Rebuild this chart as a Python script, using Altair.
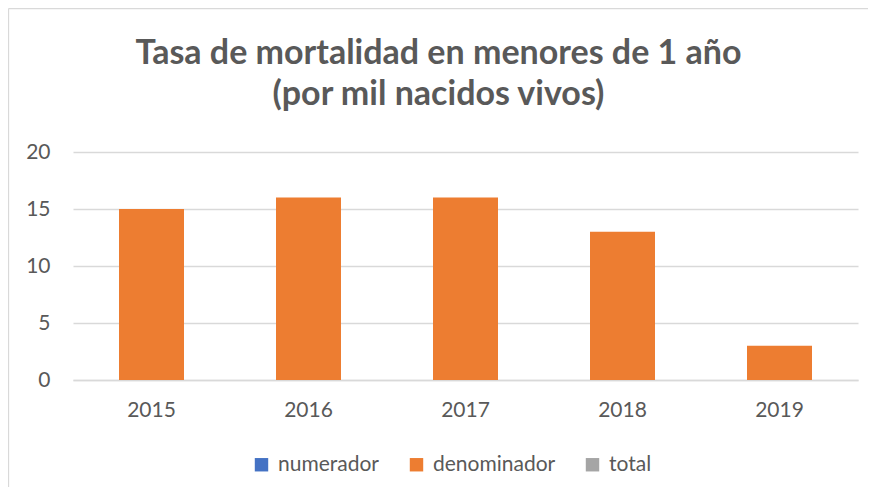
import altair as alt
import pandas as pd

years = ["2015", "2016", "2017", "2018", "2019"]
series = ["numerador", "denominador", "total"]
numerador = [0, 0, 0, 0, 0]
denominador = [15, 16, 16, 13, 3]
total = [0, 0, 0, 0, 0]
colors = ["#4472C4", "#ED7D31", "#A5A5A5"]
y_ticks = [0, 5, 10, 15, 20]
title_lines = ["Tasa de mortalidad en menores de 1 año", "(por mil nacidos vivos)"]

rows = []
for s, vals in zip(series, [numerador, denominador, total]):
    for yr, v in zip(years, vals):
        rows.append({"year": yr, "serie": s, "valor": v})
df = pd.DataFrame(rows)

W, H = 785, 228
FONT = "Lato"
GREY = "#595959"
GRID = "#d9d9d9"

one = pd.DataFrame({"a": [0]})
border_top = alt.Chart(one).mark_rule(stroke=GRID, strokeWidth=1.3).encode(
    x=alt.value(-64.5), x2=alt.value(W + 100), y=alt.value(-143.5)
)
border_left = alt.Chart(one).mark_rule(stroke=GRID, strokeWidth=1.3).encode(
    x=alt.value(-64.5), y=alt.value(-143.5), y2=alt.value(H + 200)
)

title1 = alt.Chart(pd.DataFrame({"t": [title_lines[0]]})).mark_text(
    font=FONT, fontSize=34, fontWeight="bold", color=GREY,
    align="center", baseline="alphabetic"
).encode(text="t:N", x=alt.value(W / 2 - 27), y=alt.value(-88.5))

title2 = alt.Chart(pd.DataFrame({"t": [title_lines[1]]})).mark_text(
    font=FONT, fontSize=34, fontWeight="bold", color=GREY,
    align="center", baseline="alphabetic"
).encode(text="t:N", x=alt.value(W / 2 - 27), y=alt.value(-47))

bars = alt.Chart(df).mark_bar(size=65).encode(
    x=alt.X("year:N", sort=years,
            scale=alt.Scale(paddingInner=0, paddingOuter=0),
            axis=alt.Axis(title=None, labelAngle=0, ticks=False, tickSize=0,
                          domain=True, domainColor=GRID, domainWidth=1.3,
                          labelFont=FONT, labelFontSize=21, labelColor=GREY,
                          labelPadding=19, grid=False)),
    y=alt.Y("valor:Q", scale=alt.Scale(domain=[0, 20]),
            axis=alt.Axis(title=None, values=y_ticks, ticks=False, tickSize=0,
                          domain=False, grid=True, gridColor=GRID, gridWidth=1.3,
                          labelFont=FONT, labelFontSize=21, labelColor=GREY,
                          labelPadding=23)),
    color=alt.Color("serie:N", scale=alt.Scale(domain=series, range=colors),
                    legend=alt.Legend(title=None, orient="none", direction="horizontal",
                                      legendX=178, legendY=302, padding=0,
                                      symbolType="square", symbolSize=180,
                                      symbolStrokeWidth=0, labelFont=FONT,
                                      labelFontSize=21, labelColor=GREY,
                                      labelOffset=6, columnPadding=26))
)

chart = alt.layer(border_top, border_left, title1, title2, bars).properties(
    width=W, height=H,
    padding={"left": 65, "top": 144, "right": 10, "bottom": 107},
    autosize=alt.AutoSizeParams(type="none"),
).configure_view(strokeWidth=0)

chart.save("out.html", embed_options={"renderer": "svg", "actions": False})
